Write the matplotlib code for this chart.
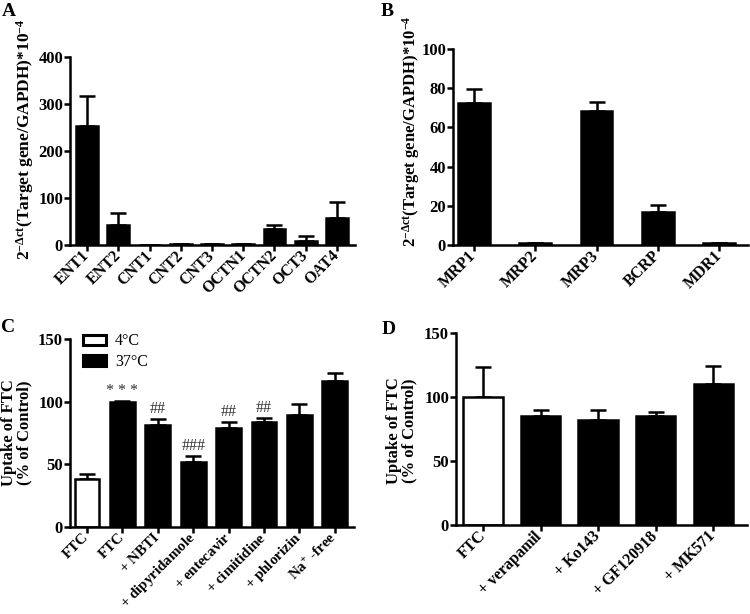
import numpy as np
import matplotlib.pyplot as plt
from matplotlib.patches import Patch

plt.rcParams['font.family'] = 'Liberation Serif'
plt.rcParams['font.weight'] = 'bold'
plt.rcParams['mathtext.fontset'] = 'custom'
plt.rcParams['mathtext.rm'] = 'Liberation Serif'
plt.rcParams['mathtext.bf'] = 'Liberation Serif:bold'
plt.rcParams['mathtext.it'] = 'Liberation Serif:italic'

# panel A: uptake transporters mRNA
a_genes = ['ENT1', 'ENT2', 'CNT1', 'CNT2', 'CNT3', 'OCTN1', 'OCTN2', 'OCT3', 'OAT4']
a_vals = [254, 43, 0.5, 2, 2, 1.5, 33, 9, 57]
a_err = [62, 25, 0, 0.5, 0.5, 0.5, 10, 11, 35]

# panel B: efflux transporters mRNA
b_genes = ['MRP1', 'MRP2', 'MRP3', 'BCRP', 'MDR1']
b_vals = [72.5, 1, 68.3, 16.6, 1]
b_err = [7, 0.2, 4.7, 3.7, 0.2]

# panel C: uptake of FTC with inhibitors
c_labels = ['FTC', 'FTC', '$+$ NBTI', '$+$ dipyridamole', '$+$ entecavir', '$+$ cimitidine',
            '$+$ phlorizin', 'Na$^{+}$ -free']
c_vals = [38, 100, 81, 52, 79, 84, 89.6, 116.8]
c_err = [4.4, 0.5, 5.5, 4.7, 4.6, 3, 8.7, 6.1]
c_white = [True, False, False, False, False, False, False, False]
c_sig = ['', '* * *', '##', '###', '##', '##', '', '']

# panel D: uptake of FTC with efflux inhibitors
d_labels = ['FTC', '$+$ verapamil', '$+$ Ko143', '$+$ GF120918', '$+$ MK571']
d_vals = [100.2, 85.5, 82, 85.5, 109.9]
d_err = [23.6, 4.2, 7.7, 3.1, 14.4]
d_white = [True, False, False, False, False]

W, H = 750, 614
fig = plt.figure(figsize=(7.5, 6.14), dpi=100)

TICK = 12


def make_ax(l, r, t, b):
    return fig.add_axes([l / W, 1 - b / H, (r - l) / W, (b - t) / H])


def style(ax):
    for s in ['top', 'right']:
        ax.spines[s].set_visible(False)
    for s in ['left', 'bottom']:
        ax.spines[s].set_linewidth(1.8)
    ax.tick_params(width=1.8, length=4.5, labelsize=TICK)
    ax.tick_params(axis='y', pad=0.5)
    ax.tick_params(axis='x', pad=1.5)
    for lab in ax.get_yticklabels():
        lab.set_fontweight('bold')


def bars(ax, vals, err, white, width):
    x = np.arange(len(vals))
    fc = ['white' if w else 'black' for w in white]
    ax.bar(x, vals, width=width, color=fc, edgecolor='black', linewidth=1.8, zorder=2)
    ax.errorbar(x, vals, yerr=[np.zeros(len(err)), err], fmt='none', ecolor='black',
                elinewidth=1.8, capsize=5.5, capthick=1.8, zorder=1)
    return x


def xlabels(ax, x, labels, size=11.5):
    ax.set_xticks(x)
    ax.set_xticklabels(labels, rotation=45, ha='right', va='center',
                       rotation_mode='anchor', fontsize=size, fontweight='bold')


ylab_a = r'2$^{\mathbf{-\Delta ct}}$(Target gene/GAPDH)*10$^{\mathbf{-4}}$'
ylab_c = 'Uptake of FTC\n(% of Control)'

# A
ax = make_ax(70, 355, 57, 245)
x = bars(ax, a_vals, a_err, [False] * len(a_vals), 0.7)
ax.set_ylim(0, 400)
ax.set_yticks([0, 100, 200, 300, 400])
ax.set_xlim(-0.55, 8.58)
style(ax)
xlabels(ax, x, a_genes)
ax.set_ylabel(ylab_a, fontsize=12.5, fontweight='bold')
ax.yaxis.set_label_coords(-0.12, 0.56)
fig.text(2 / W, 1 - 12 / H, 'A', fontsize=14, fontweight='bold', va='center')

# B
ax = make_ax(453, 748, 49, 245)
x = bars(ax, b_vals, b_err, [False] * len(b_vals), 0.52)
ax.set_ylim(0, 100)
ax.set_yticks([0, 20, 40, 60, 80, 100])
ax.set_xlim(-0.34, 4.47)
style(ax)
xlabels(ax, x, b_genes)
ax.set_ylabel(ylab_a, fontsize=12, fontweight='bold')
ax.yaxis.set_label_coords(-0.105, 0.58)
fig.text(381 / W, 1 - 11 / H, 'B', fontsize=14, fontweight='bold', va='center')

# C
ax = make_ax(70, 354, 339, 527)
x = bars(ax, c_vals, c_err, c_white, 0.7)
for xi, v, e, s in zip(x, c_vals, c_err, c_sig):
    if s:
        ax.text(xi, v + e + 1.5, s, ha='center', va='bottom', fontsize=11.5,
                fontweight='normal', color='#333333')
ax.set_ylim(0, 150)
ax.set_yticks([0, 50, 100, 150])
ax.set_xlim(-0.48, 7.54)
style(ax)
xlabels(ax, x, c_labels, size=10.8)
ax.set_ylabel(ylab_c, fontsize=12, fontweight='bold', linespacing=0.95)
ax.yaxis.set_label_coords(-0.134, 0.5)
handles = [Patch(facecolor='white', edgecolor='black', linewidth=2.2, label='4°C'),
           Patch(facecolor='black', edgecolor='black', linewidth=2.2, label='37°C')]
ax.legend(handles=handles, loc='upper left', bbox_to_anchor=(0.046, 1.03), frameon=False,
          borderaxespad=0, borderpad=0,
          prop={'family': 'Liberation Serif', 'weight': 'normal', 'size': 11.5},
          handlelength=1.45, handleheight=0.6, handletextpad=0.55, labelspacing=0.3)
fig.text(1 / W, 1 - 327 / H, 'C', fontsize=14, fontweight='bold', va='center')

# D
ax = make_ax(456, 747, 333, 525)
x = bars(ax, d_vals, d_err, d_white, 0.68)
ax.set_ylim(0, 150)
ax.set_yticks([0, 50, 100, 150])
ax.set_xlim(-0.47, 4.59)
style(ax)
xlabels(ax, x, d_labels)
ax.set_ylabel(ylab_c, fontsize=12, fontweight='bold', linespacing=0.95)
ax.yaxis.set_label_coords(-0.134, 0.49)
fig.text(382 / W, 1 - 329 / H, 'D', fontsize=14, fontweight='bold', va='center')

fig.savefig('out.png', dpi=100)
